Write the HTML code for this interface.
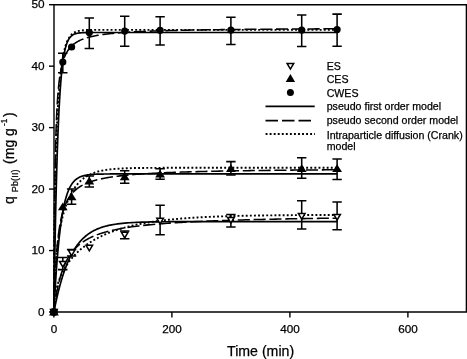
<!DOCTYPE html>
<html><head><meta charset="utf-8"><title>Kinetics</title><style>html,body{margin:0;padding:0;background:#fff}</style></head><body>
<svg width="467" height="359" viewBox="0 0 467 359" style="display:block;font-family:'Liberation Sans',sans-serif" fill="#000">
<style>text{stroke:#000;stroke-width:0.25px}</style>
<rect width="467" height="359" fill="#fff"/>
<g fill="none" stroke="#000" stroke-width="1.7" stroke-linejoin="round">
<path d="M53.90 312.00 L54.05 301.85 L54.20 292.06 L54.34 282.63 L54.49 273.55 L54.64 264.79 L54.78 256.35 L54.93 248.22 L55.08 240.38 L55.23 232.83 L55.38 225.55 L55.52 218.54 L55.67 211.78 L55.82 205.27 L55.96 198.99 L56.11 192.95 L56.26 187.12 L56.41 181.50 L56.55 176.09 L56.70 170.87 L56.85 165.84 L57.00 161.00 L57.14 156.33 L57.29 151.83 L57.44 147.50 L57.59 143.32 L57.73 139.29 L57.88 135.41 L58.03 131.68 L58.18 128.07 L58.32 124.60 L58.47 121.25 L58.62 118.03 L58.77 114.92 L58.91 111.93 L59.06 109.04 L59.21 106.26 L59.36 103.58 L59.50 101.00 L59.65 98.51 L59.80 96.11 L59.95 93.80 L60.09 91.57 L60.24 89.43 L60.39 87.36 L60.54 85.36 L60.68 83.44 L60.83 81.59 L60.98 79.81 L61.13 78.09 L61.27 76.43 L61.42 74.84 L61.57 73.30 L61.72 71.82 L61.86 70.39 L62.01 69.01 L62.16 67.68 L62.31 66.40 L62.45 65.17 L62.60 63.98 L62.75 62.84 L62.90 61.74 L63.05 60.68 L63.19 59.65 L63.34 58.66 L63.49 57.71 L63.63 56.80 L63.78 55.91 L63.93 55.06 L64.08 54.24 L64.22 53.45 L64.37 52.69 L64.52 51.96 L64.67 51.25 L64.81 50.57 L64.96 49.91 L65.11 49.28 L65.26 48.67 L65.41 48.08 L65.55 47.51 L65.70 46.97 L66.29 44.97 L66.88 43.26 L67.47 41.77 L68.06 40.50 L68.65 39.39 L69.24 38.44 L69.83 37.62 L70.42 36.92 L71.01 36.31 L71.60 35.78 L72.19 35.33 L72.78 34.93 L73.37 34.60 L73.96 34.31 L74.55 34.06 L75.14 33.84 L75.73 33.65 L76.32 33.49 L76.91 33.35 L77.50 33.23 L78.09 33.13 L78.68 33.04 L79.27 32.96 L79.86 32.90 L80.45 32.84 L81.04 32.79 L81.63 32.75 L82.22 32.71 L82.81 32.68 L83.40 32.65 L83.99 32.63 L84.58 32.61 L85.17 32.59 L85.76 32.58 L86.35 32.56 L86.94 32.55 L87.53 32.54 L88.12 32.53 L88.71 32.53 L89.30 32.52 L89.89 32.52 L90.48 32.51 L91.07 32.51 L91.66 32.50 L92.25 32.50 L92.84 32.50 L93.43 32.50 L94.02 32.49 L94.61 32.49 L95.20 32.49 L95.79 32.49 L96.38 32.49 L96.97 32.49 L97.56 32.49 L98.15 32.49 L98.74 32.49 L99.33 32.49 L99.92 32.49 L100.51 32.48 L101.10 32.48 L101.69 32.48 L102.28 32.48 L102.87 32.48 L103.46 32.48 L104.05 32.48 L104.64 32.48 L105.23 32.48 L105.82 32.48 L106.41 32.48 L107.00 32.48 L107.59 32.48 L108.18 32.48 L108.77 32.48 L109.36 32.48 L109.95 32.48 L110.54 32.48 L111.13 32.48 L111.72 32.48 L112.31 32.48 L112.90 32.48 L115.26 32.48 L117.62 32.48 L119.98 32.48 L122.34 32.48 L124.70 32.48 L127.06 32.48 L129.42 32.48 L131.78 32.48 L134.14 32.48 L136.50 32.48 L138.86 32.48 L141.22 32.48 L143.58 32.48 L145.94 32.48 L148.30 32.48 L150.66 32.48 L153.02 32.48 L155.38 32.48 L157.74 32.48 L160.10 32.48 L162.46 32.48 L164.82 32.48 L167.18 32.48 L169.54 32.48 L171.90 32.48 L174.26 32.48 L176.62 32.48 L178.98 32.48 L181.34 32.48 L183.70 32.48 L186.06 32.48 L188.42 32.48 L190.78 32.48 L193.14 32.48 L195.50 32.48 L197.86 32.48 L200.22 32.48 L202.58 32.48 L204.94 32.48 L207.30 32.48 L209.66 32.48 L212.02 32.48 L214.38 32.48 L216.74 32.48 L219.10 32.48 L221.46 32.48 L223.82 32.48 L226.18 32.48 L228.54 32.48 L230.90 32.48 L233.26 32.48 L235.62 32.48 L237.98 32.48 L240.34 32.48 L242.70 32.48 L245.06 32.48 L247.42 32.48 L249.78 32.48 L252.14 32.48 L254.50 32.48 L256.86 32.48 L259.22 32.48 L261.58 32.48 L263.94 32.48 L266.30 32.48 L268.66 32.48 L271.02 32.48 L273.38 32.48 L275.74 32.48 L278.10 32.48 L280.46 32.48 L282.82 32.48 L285.18 32.48 L287.54 32.48 L289.90 32.48 L292.26 32.48 L294.62 32.48 L296.98 32.48 L299.34 32.48 L301.70 32.48 L304.06 32.48 L306.42 32.48 L308.78 32.48 L311.14 32.48 L313.50 32.48 L315.86 32.48 L318.22 32.48 L320.58 32.48 L322.94 32.48 L325.30 32.48 L327.66 32.48 L330.02 32.48 L332.38 32.48 L334.74 32.48 L337.10 32.48"/>
<path d="M53.90 312.00 L54.05 281.52 L54.20 256.95 L54.34 236.71 L54.49 219.75 L54.64 205.34 L54.78 192.93 L54.93 182.15 L55.08 172.68 L55.23 164.31 L55.38 156.85 L55.52 150.16 L55.67 144.14 L55.82 138.67 L55.96 133.70 L56.11 129.15 L56.26 124.97 L56.41 121.13 L56.55 117.57 L56.70 114.28 L56.85 111.22 L57.00 108.37 L57.14 105.70 L57.29 103.21 L57.44 100.87 L57.59 98.67 L57.73 96.60 L57.88 94.65 L58.03 92.80 L58.18 91.05 L58.32 89.40 L58.47 87.82 L58.62 86.33 L58.77 84.91 L58.91 83.55 L59.06 82.26 L59.21 81.03 L59.36 79.85 L59.50 78.72 L59.65 77.64 L59.80 76.60 L59.95 75.61 L60.09 74.65 L60.24 73.74 L60.39 72.86 L60.54 72.01 L60.68 71.19 L60.83 70.40 L60.98 69.64 L61.13 68.91 L61.27 68.20 L61.42 67.51 L61.57 66.85 L61.72 66.21 L61.86 65.59 L62.01 64.99 L62.16 64.41 L62.31 63.84 L62.45 63.30 L62.60 62.77 L62.75 62.25 L62.90 61.75 L63.05 61.26 L63.19 60.79 L63.34 60.33 L63.49 59.88 L63.63 59.45 L63.78 59.03 L63.93 58.61 L64.08 58.21 L64.22 57.82 L64.37 57.44 L64.52 57.07 L64.67 56.71 L64.81 56.35 L64.96 56.01 L65.11 55.67 L65.26 55.34 L65.41 55.02 L65.55 54.70 L65.70 54.40 L66.29 53.23 L66.88 52.17 L67.47 51.19 L68.06 50.28 L68.65 49.44 L69.24 48.66 L69.83 47.94 L70.42 47.26 L71.01 46.63 L71.60 46.03 L72.19 45.47 L72.78 44.95 L73.37 44.45 L73.96 43.98 L74.55 43.54 L75.14 43.12 L75.73 42.72 L76.32 42.35 L76.91 41.99 L77.50 41.64 L78.09 41.32 L78.68 41.00 L79.27 40.71 L79.86 40.42 L80.45 40.15 L81.04 39.89 L81.63 39.64 L82.22 39.39 L82.81 39.16 L83.40 38.94 L83.99 38.73 L84.58 38.52 L85.17 38.32 L85.76 38.13 L86.35 37.94 L86.94 37.76 L87.53 37.59 L88.12 37.43 L88.71 37.26 L89.30 37.11 L89.89 36.96 L90.48 36.81 L91.07 36.67 L91.66 36.53 L92.25 36.40 L92.84 36.27 L93.43 36.14 L94.02 36.02 L94.61 35.90 L95.20 35.78 L95.79 35.67 L96.38 35.56 L96.97 35.45 L97.56 35.35 L98.15 35.25 L98.74 35.15 L99.33 35.06 L99.92 34.96 L100.51 34.87 L101.10 34.78 L101.69 34.69 L102.28 34.61 L102.87 34.53 L103.46 34.45 L104.05 34.37 L104.64 34.29 L105.23 34.21 L105.82 34.14 L106.41 34.07 L107.00 34.00 L107.59 33.93 L108.18 33.86 L108.77 33.79 L109.36 33.73 L109.95 33.67 L110.54 33.60 L111.13 33.54 L111.72 33.48 L112.31 33.42 L112.90 33.37 L115.26 33.15 L117.62 32.95 L119.98 32.76 L122.34 32.58 L124.70 32.42 L127.06 32.26 L129.42 32.12 L131.78 31.98 L134.14 31.85 L136.50 31.73 L138.86 31.62 L141.22 31.51 L143.58 31.41 L145.94 31.31 L148.30 31.22 L150.66 31.13 L153.02 31.05 L155.38 30.97 L157.74 30.89 L160.10 30.82 L162.46 30.75 L164.82 30.68 L167.18 30.62 L169.54 30.55 L171.90 30.49 L174.26 30.44 L176.62 30.38 L178.98 30.33 L181.34 30.28 L183.70 30.23 L186.06 30.18 L188.42 30.14 L190.78 30.09 L193.14 30.05 L195.50 30.01 L197.86 29.97 L200.22 29.93 L202.58 29.89 L204.94 29.86 L207.30 29.82 L209.66 29.79 L212.02 29.76 L214.38 29.72 L216.74 29.69 L219.10 29.66 L221.46 29.63 L223.82 29.61 L226.18 29.58 L228.54 29.55 L230.90 29.52 L233.26 29.50 L235.62 29.47 L237.98 29.45 L240.34 29.43 L242.70 29.40 L245.06 29.38 L247.42 29.36 L249.78 29.34 L252.14 29.32 L254.50 29.29 L256.86 29.27 L259.22 29.26 L261.58 29.24 L263.94 29.22 L266.30 29.20 L268.66 29.18 L271.02 29.16 L273.38 29.15 L275.74 29.13 L278.10 29.11 L280.46 29.10 L282.82 29.08 L285.18 29.07 L287.54 29.05 L289.90 29.04 L292.26 29.02 L294.62 29.01 L296.98 28.99 L299.34 28.98 L301.70 28.97 L304.06 28.95 L306.42 28.94 L308.78 28.93 L311.14 28.92 L313.50 28.90 L315.86 28.89 L318.22 28.88 L320.58 28.87 L322.94 28.86 L325.30 28.84 L327.66 28.83 L330.02 28.82 L332.38 28.81 L334.74 28.80 L337.10 28.79" stroke-dasharray="12.1 3.7" stroke-width="1.55" stroke-dashoffset="13.72"/>
<path d="M53.90 312.00 L54.05 261.91 L54.20 242.67 L54.34 228.51 L54.49 216.97 L54.64 207.11 L54.78 198.45 L54.93 190.68 L55.08 183.64 L55.23 177.18 L55.38 171.20 L55.52 165.65 L55.67 160.45 L55.82 155.58 L55.96 150.98 L56.11 146.64 L56.26 142.53 L56.41 138.62 L56.55 134.89 L56.70 131.35 L56.85 127.95 L57.00 124.71 L57.14 121.61 L57.29 118.63 L57.44 115.77 L57.59 113.02 L57.73 110.38 L57.88 107.84 L58.03 105.39 L58.18 103.03 L58.32 100.76 L58.47 98.56 L58.62 96.44 L58.77 94.40 L58.91 92.42 L59.06 90.51 L59.21 88.66 L59.36 86.88 L59.50 85.15 L59.65 83.47 L59.80 81.86 L59.95 80.29 L60.09 78.77 L60.24 77.30 L60.39 75.88 L60.54 74.50 L60.68 73.16 L60.83 71.87 L60.98 70.61 L61.13 69.40 L61.27 68.22 L61.42 67.08 L61.57 65.97 L61.72 64.89 L61.86 63.85 L62.01 62.84 L62.16 61.86 L62.31 60.91 L62.45 59.99 L62.60 59.09 L62.75 58.22 L62.90 57.38 L63.05 56.57 L63.19 55.77 L63.34 55.01 L63.49 54.26 L63.63 53.54 L63.78 52.84 L63.93 52.15 L64.08 51.49 L64.22 50.85 L64.37 50.23 L64.52 49.63 L64.67 49.04 L64.81 48.47 L64.96 47.92 L65.11 47.39 L65.26 46.87 L65.41 46.37 L65.55 45.88 L65.70 45.40 L66.29 43.64 L66.88 42.08 L67.47 40.70 L68.06 39.47 L68.65 38.38 L69.24 37.41 L69.83 36.56 L70.42 35.80 L71.01 35.12 L71.60 34.52 L72.19 33.99 L72.78 33.52 L73.37 33.11 L73.96 32.74 L74.55 32.41 L75.14 32.12 L75.73 31.86 L76.32 31.63 L76.91 31.43 L77.50 31.25 L78.09 31.09 L78.68 30.95 L79.27 30.82 L79.86 30.71 L80.45 30.61 L81.04 30.53 L81.63 30.45 L82.22 30.38 L82.81 30.32 L83.40 30.26 L83.99 30.22 L84.58 30.17 L85.17 30.13 L85.76 30.10 L86.35 30.07 L86.94 30.04 L87.53 30.02 L88.12 30.00 L88.71 29.98 L89.30 29.97 L89.89 29.95 L90.48 29.94 L91.07 29.93 L91.66 29.92 L92.25 29.91 L92.84 29.90 L93.43 29.89 L94.02 29.89 L94.61 29.88 L95.20 29.88 L95.79 29.87 L96.38 29.87 L96.97 29.86 L97.56 29.86 L98.15 29.86 L98.74 29.86 L99.33 29.85 L99.92 29.85 L100.51 29.85 L101.10 29.85 L101.69 29.85 L102.28 29.85 L102.87 29.85 L103.46 29.85 L104.05 29.84 L104.64 29.84 L105.23 29.84 L105.82 29.84 L106.41 29.84 L107.00 29.84 L107.59 29.84 L108.18 29.84 L108.77 29.84 L109.36 29.84 L109.95 29.84 L110.54 29.84 L111.13 29.84 L111.72 29.84 L112.31 29.84 L112.90 29.84 L115.26 29.84 L117.62 29.84 L119.98 29.84 L122.34 29.84 L124.70 29.84 L127.06 29.84 L129.42 29.84 L131.78 29.84 L134.14 29.84 L136.50 29.84 L138.86 29.84 L141.22 29.84 L143.58 29.84 L145.94 29.84 L148.30 29.84 L150.66 29.84 L153.02 29.84 L155.38 29.84 L157.74 29.84 L160.10 29.84 L162.46 29.84 L164.82 29.84 L167.18 29.84 L169.54 29.84 L171.90 29.84 L174.26 29.84 L176.62 29.84 L178.98 29.84 L181.34 29.84 L183.70 29.84 L186.06 29.84 L188.42 29.84 L190.78 29.84 L193.14 29.84 L195.50 29.84 L197.86 29.84 L200.22 29.84 L202.58 29.84 L204.94 29.84 L207.30 29.84 L209.66 29.84 L212.02 29.84 L214.38 29.84 L216.74 29.84 L219.10 29.84 L221.46 29.84 L223.82 29.84 L226.18 29.84 L228.54 29.84 L230.90 29.84 L233.26 29.84 L235.62 29.84 L237.98 29.84 L240.34 29.84 L242.70 29.84 L245.06 29.84 L247.42 29.84 L249.78 29.84 L252.14 29.84 L254.50 29.84 L256.86 29.84 L259.22 29.84 L261.58 29.84 L263.94 29.84 L266.30 29.84 L268.66 29.84 L271.02 29.84 L273.38 29.84 L275.74 29.84 L278.10 29.84 L280.46 29.84 L282.82 29.84 L285.18 29.84 L287.54 29.84 L289.90 29.84 L292.26 29.84 L294.62 29.84 L296.98 29.84 L299.34 29.84 L301.70 29.84 L304.06 29.84 L306.42 29.84 L308.78 29.84 L311.14 29.84 L313.50 29.84 L315.86 29.84 L318.22 29.84 L320.58 29.84 L322.94 29.84 L325.30 29.84 L327.66 29.84 L330.02 29.84 L332.38 29.84 L334.74 29.84 L337.10 29.84" stroke-dasharray="1.9 2.2" stroke-width="1.9"/>
<path d="M53.90 312.00 L54.05 309.06 L54.20 306.19 L54.34 303.38 L54.49 300.62 L54.64 297.93 L54.78 295.29 L54.93 292.71 L55.08 290.18 L55.23 287.71 L55.38 285.29 L55.52 282.92 L55.67 280.60 L55.82 278.33 L55.96 276.11 L56.11 273.94 L56.26 271.81 L56.41 269.73 L56.55 267.69 L56.70 265.70 L56.85 263.75 L57.00 261.84 L57.14 259.97 L57.29 258.14 L57.44 256.35 L57.59 254.59 L57.73 252.88 L57.88 251.20 L58.03 249.55 L58.18 247.95 L58.32 246.37 L58.47 244.83 L58.62 243.32 L58.77 241.85 L58.91 240.40 L59.06 238.99 L59.21 237.60 L59.36 236.25 L59.50 234.92 L59.65 233.63 L59.80 232.36 L59.95 231.11 L60.09 229.90 L60.24 228.71 L60.39 227.54 L60.54 226.40 L60.68 225.29 L60.83 224.19 L60.98 223.13 L61.13 222.08 L61.27 221.05 L61.42 220.05 L61.57 219.07 L61.72 218.11 L61.86 217.17 L62.01 216.25 L62.16 215.35 L62.31 214.47 L62.45 213.61 L62.60 212.76 L62.75 211.94 L62.90 211.13 L63.05 210.34 L63.19 209.56 L63.34 208.81 L63.49 208.06 L63.63 207.34 L63.78 206.63 L63.93 205.93 L64.08 205.25 L64.22 204.59 L64.37 203.93 L64.52 203.30 L64.67 202.67 L64.81 202.06 L64.96 201.46 L65.11 200.88 L65.26 200.30 L65.41 199.74 L65.55 199.19 L65.70 198.66 L66.29 196.62 L66.88 194.75 L67.47 193.03 L68.06 191.46 L68.65 190.02 L69.24 188.69 L69.83 187.47 L70.42 186.36 L71.01 185.33 L71.60 184.39 L72.19 183.53 L72.78 182.74 L73.37 182.02 L73.96 181.35 L74.55 180.74 L75.14 180.18 L75.73 179.66 L76.32 179.19 L76.91 178.76 L77.50 178.36 L78.09 177.99 L78.68 177.66 L79.27 177.35 L79.86 177.07 L80.45 176.81 L81.04 176.58 L81.63 176.36 L82.22 176.16 L82.81 175.97 L83.40 175.81 L83.99 175.65 L84.58 175.51 L85.17 175.38 L85.76 175.26 L86.35 175.15 L86.94 175.05 L87.53 174.96 L88.12 174.87 L88.71 174.80 L89.30 174.73 L89.89 174.66 L90.48 174.60 L91.07 174.54 L91.66 174.49 L92.25 174.45 L92.84 174.41 L93.43 174.37 L94.02 174.33 L94.61 174.30 L95.20 174.27 L95.79 174.24 L96.38 174.21 L96.97 174.19 L97.56 174.17 L98.15 174.15 L98.74 174.13 L99.33 174.12 L99.92 174.10 L100.51 174.09 L101.10 174.07 L101.69 174.06 L102.28 174.05 L102.87 174.04 L103.46 174.03 L104.05 174.02 L104.64 174.02 L105.23 174.01 L105.82 174.00 L106.41 174.00 L107.00 173.99 L107.59 173.99 L108.18 173.98 L108.77 173.98 L109.36 173.98 L109.95 173.97 L110.54 173.97 L111.13 173.97 L111.72 173.96 L112.31 173.96 L112.90 173.96 L115.26 173.95 L117.62 173.95 L119.98 173.94 L122.34 173.94 L124.70 173.94 L127.06 173.94 L129.42 173.93 L131.78 173.93 L134.14 173.93 L136.50 173.93 L138.86 173.93 L141.22 173.93 L143.58 173.93 L145.94 173.93 L148.30 173.93 L150.66 173.93 L153.02 173.93 L155.38 173.93 L157.74 173.93 L160.10 173.93 L162.46 173.93 L164.82 173.93 L167.18 173.93 L169.54 173.93 L171.90 173.93 L174.26 173.93 L176.62 173.93 L178.98 173.93 L181.34 173.93 L183.70 173.93 L186.06 173.93 L188.42 173.93 L190.78 173.93 L193.14 173.93 L195.50 173.93 L197.86 173.93 L200.22 173.93 L202.58 173.93 L204.94 173.93 L207.30 173.93 L209.66 173.93 L212.02 173.93 L214.38 173.93 L216.74 173.93 L219.10 173.93 L221.46 173.93 L223.82 173.93 L226.18 173.93 L228.54 173.93 L230.90 173.93 L233.26 173.93 L235.62 173.93 L237.98 173.93 L240.34 173.93 L242.70 173.93 L245.06 173.93 L247.42 173.93 L249.78 173.93 L252.14 173.93 L254.50 173.93 L256.86 173.93 L259.22 173.93 L261.58 173.93 L263.94 173.93 L266.30 173.93 L268.66 173.93 L271.02 173.93 L273.38 173.93 L275.74 173.93 L278.10 173.93 L280.46 173.93 L282.82 173.93 L285.18 173.93 L287.54 173.93 L289.90 173.93 L292.26 173.93 L294.62 173.93 L296.98 173.93 L299.34 173.93 L301.70 173.93 L304.06 173.93 L306.42 173.93 L308.78 173.93 L311.14 173.93 L313.50 173.93 L315.86 173.93 L318.22 173.93 L320.58 173.93 L322.94 173.93 L325.30 173.93 L327.66 173.93 L330.02 173.93 L332.38 173.93 L334.74 173.93 L337.10 173.93"/>
<path d="M53.90 312.00 L54.05 306.79 L54.20 301.94 L54.34 297.42 L54.49 293.19 L54.64 289.23 L54.78 285.51 L54.93 282.01 L55.08 278.72 L55.23 275.61 L55.38 272.67 L55.52 269.88 L55.67 267.24 L55.82 264.74 L55.96 262.35 L56.11 260.08 L56.26 257.92 L56.41 255.85 L56.55 253.88 L56.70 252.00 L56.85 250.19 L57.00 248.46 L57.14 246.81 L57.29 245.21 L57.44 243.69 L57.59 242.22 L57.73 240.80 L57.88 239.44 L58.03 238.13 L58.18 236.87 L58.32 235.65 L58.47 234.47 L58.62 233.34 L58.77 232.24 L58.91 231.17 L59.06 230.15 L59.21 229.15 L59.36 228.19 L59.50 227.25 L59.65 226.35 L59.80 225.47 L59.95 224.62 L60.09 223.79 L60.24 222.99 L60.39 222.20 L60.54 221.44 L60.68 220.71 L60.83 219.99 L60.98 219.29 L61.13 218.61 L61.27 217.95 L61.42 217.30 L61.57 216.67 L61.72 216.06 L61.86 215.46 L62.01 214.87 L62.16 214.30 L62.31 213.75 L62.45 213.21 L62.60 212.68 L62.75 212.16 L62.90 211.65 L63.05 211.16 L63.19 210.67 L63.34 210.20 L63.49 209.74 L63.63 209.28 L63.78 208.84 L63.93 208.41 L64.08 207.98 L64.22 207.57 L64.37 207.16 L64.52 206.76 L64.67 206.37 L64.81 205.99 L64.96 205.61 L65.11 205.24 L65.26 204.88 L65.41 204.53 L65.55 204.18 L65.70 203.84 L66.29 202.53 L66.88 201.32 L67.47 200.19 L68.06 199.13 L68.65 198.14 L69.24 197.21 L69.83 196.34 L70.42 195.52 L71.01 194.74 L71.60 194.00 L72.19 193.31 L72.78 192.65 L73.37 192.02 L73.96 191.42 L74.55 190.86 L75.14 190.32 L75.73 189.80 L76.32 189.31 L76.91 188.84 L77.50 188.38 L78.09 187.95 L78.68 187.54 L79.27 187.14 L79.86 186.76 L80.45 186.39 L81.04 186.04 L81.63 185.70 L82.22 185.37 L82.81 185.05 L83.40 184.75 L83.99 184.46 L84.58 184.17 L85.17 183.90 L85.76 183.63 L86.35 183.37 L86.94 183.12 L87.53 182.88 L88.12 182.65 L88.71 182.42 L89.30 182.20 L89.89 181.99 L90.48 181.78 L91.07 181.58 L91.66 181.39 L92.25 181.20 L92.84 181.01 L93.43 180.83 L94.02 180.66 L94.61 180.49 L95.20 180.32 L95.79 180.16 L96.38 180.00 L96.97 179.85 L97.56 179.70 L98.15 179.56 L98.74 179.41 L99.33 179.27 L99.92 179.14 L100.51 179.01 L101.10 178.88 L101.69 178.75 L102.28 178.63 L102.87 178.50 L103.46 178.39 L104.05 178.27 L104.64 178.16 L105.23 178.05 L105.82 177.94 L106.41 177.83 L107.00 177.73 L107.59 177.63 L108.18 177.53 L108.77 177.43 L109.36 177.33 L109.95 177.24 L110.54 177.15 L111.13 177.06 L111.72 176.97 L112.31 176.88 L112.90 176.80 L115.26 176.47 L117.62 176.17 L119.98 175.88 L122.34 175.62 L124.70 175.37 L127.06 175.14 L129.42 174.92 L131.78 174.72 L134.14 174.52 L136.50 174.34 L138.86 174.16 L141.22 174.00 L143.58 173.84 L145.94 173.69 L148.30 173.55 L150.66 173.42 L153.02 173.29 L155.38 173.16 L157.74 173.05 L160.10 172.93 L162.46 172.83 L164.82 172.72 L167.18 172.62 L169.54 172.53 L171.90 172.43 L174.26 172.35 L176.62 172.26 L178.98 172.18 L181.34 172.10 L183.70 172.02 L186.06 171.95 L188.42 171.88 L190.78 171.81 L193.14 171.74 L195.50 171.68 L197.86 171.62 L200.22 171.56 L202.58 171.50 L204.94 171.44 L207.30 171.39 L209.66 171.33 L212.02 171.28 L214.38 171.23 L216.74 171.18 L219.10 171.14 L221.46 171.09 L223.82 171.05 L226.18 171.00 L228.54 170.96 L230.90 170.92 L233.26 170.88 L235.62 170.84 L237.98 170.80 L240.34 170.76 L242.70 170.73 L245.06 170.69 L247.42 170.66 L249.78 170.62 L252.14 170.59 L254.50 170.56 L256.86 170.52 L259.22 170.49 L261.58 170.46 L263.94 170.43 L266.30 170.40 L268.66 170.38 L271.02 170.35 L273.38 170.32 L275.74 170.30 L278.10 170.27 L280.46 170.24 L282.82 170.22 L285.18 170.19 L287.54 170.17 L289.90 170.15 L292.26 170.12 L294.62 170.10 L296.98 170.08 L299.34 170.06 L301.70 170.04 L304.06 170.01 L306.42 169.99 L308.78 169.97 L311.14 169.95 L313.50 169.93 L315.86 169.92 L318.22 169.90 L320.58 169.88 L322.94 169.86 L325.30 169.84 L327.66 169.83 L330.02 169.81 L332.38 169.79 L334.74 169.77 L337.10 169.76" stroke-dasharray="12.1 3.7" stroke-width="1.55" stroke-dashoffset="3.56"/>
<path d="M53.90 312.00 L54.05 296.54 L54.20 290.40 L54.34 285.80 L54.49 281.99 L54.64 278.70 L54.78 275.76 L54.93 273.09 L55.08 270.64 L55.23 268.37 L55.38 266.25 L55.52 264.25 L55.67 262.36 L55.82 260.57 L55.96 258.86 L56.11 257.23 L56.26 255.67 L56.41 254.17 L56.55 252.73 L56.70 251.34 L56.85 249.99 L57.00 248.70 L57.14 247.44 L57.29 246.22 L57.44 245.04 L57.59 243.89 L57.73 242.77 L57.88 241.69 L58.03 240.63 L58.18 239.60 L58.32 238.59 L58.47 237.61 L58.62 236.65 L58.77 235.72 L58.91 234.80 L59.06 233.91 L59.21 233.03 L59.36 232.17 L59.50 231.33 L59.65 230.51 L59.80 229.70 L59.95 228.91 L60.09 228.14 L60.24 227.37 L60.39 226.63 L60.54 225.89 L60.68 225.17 L60.83 224.47 L60.98 223.77 L61.13 223.09 L61.27 222.42 L61.42 221.76 L61.57 221.11 L61.72 220.47 L61.86 219.84 L62.01 219.22 L62.16 218.62 L62.31 218.02 L62.45 217.43 L62.60 216.85 L62.75 216.27 L62.90 215.71 L63.05 215.16 L63.19 214.61 L63.34 214.07 L63.49 213.54 L63.63 213.02 L63.78 212.50 L63.93 211.99 L64.08 211.49 L64.22 210.99 L64.37 210.51 L64.52 210.03 L64.67 209.55 L64.81 209.08 L64.96 208.62 L65.11 208.16 L65.26 207.71 L65.41 207.27 L65.55 206.83 L65.70 206.40 L66.29 204.72 L66.88 203.13 L67.47 201.61 L68.06 200.17 L68.65 198.79 L69.24 197.48 L69.83 196.23 L70.42 195.03 L71.01 193.89 L71.60 192.79 L72.19 191.75 L72.78 190.75 L73.37 189.79 L73.96 188.88 L74.55 188.00 L75.14 187.16 L75.73 186.36 L76.32 185.59 L76.91 184.85 L77.50 184.15 L78.09 183.47 L78.68 182.82 L79.27 182.20 L79.86 181.61 L80.45 181.04 L81.04 180.49 L81.63 179.97 L82.22 179.47 L82.81 178.99 L83.40 178.52 L83.99 178.08 L84.58 177.66 L85.17 177.25 L85.76 176.86 L86.35 176.49 L86.94 176.13 L87.53 175.79 L88.12 175.46 L88.71 175.14 L89.30 174.84 L89.89 174.55 L90.48 174.27 L91.07 174.00 L91.66 173.75 L92.25 173.50 L92.84 173.27 L93.43 173.04 L94.02 172.82 L94.61 172.62 L95.20 172.42 L95.79 172.23 L96.38 172.04 L96.97 171.87 L97.56 171.70 L98.15 171.54 L98.74 171.39 L99.33 171.24 L99.92 171.09 L100.51 170.96 L101.10 170.83 L101.69 170.70 L102.28 170.58 L102.87 170.47 L103.46 170.36 L104.05 170.25 L104.64 170.15 L105.23 170.05 L105.82 169.96 L106.41 169.87 L107.00 169.78 L107.59 169.70 L108.18 169.62 L108.77 169.55 L109.36 169.47 L109.95 169.40 L110.54 169.34 L111.13 169.27 L111.72 169.21 L112.31 169.15 L112.90 169.10 L115.26 168.89 L117.62 168.72 L119.98 168.58 L122.34 168.45 L124.70 168.35 L127.06 168.26 L129.42 168.19 L131.78 168.13 L134.14 168.07 L136.50 168.03 L138.86 167.99 L141.22 167.96 L143.58 167.93 L145.94 167.91 L148.30 167.89 L150.66 167.87 L153.02 167.86 L155.38 167.85 L157.74 167.84 L160.10 167.83 L162.46 167.82 L164.82 167.82 L167.18 167.81 L169.54 167.81 L171.90 167.80 L174.26 167.80 L176.62 167.80 L178.98 167.79 L181.34 167.79 L183.70 167.79 L186.06 167.79 L188.42 167.79 L190.78 167.79 L193.14 167.79 L195.50 167.79 L197.86 167.79 L200.22 167.79 L202.58 167.78 L204.94 167.78 L207.30 167.78 L209.66 167.78 L212.02 167.78 L214.38 167.78 L216.74 167.78 L219.10 167.78 L221.46 167.78 L223.82 167.78 L226.18 167.78 L228.54 167.78 L230.90 167.78 L233.26 167.78 L235.62 167.78 L237.98 167.78 L240.34 167.78 L242.70 167.78 L245.06 167.78 L247.42 167.78 L249.78 167.78 L252.14 167.78 L254.50 167.78 L256.86 167.78 L259.22 167.78 L261.58 167.78 L263.94 167.78 L266.30 167.78 L268.66 167.78 L271.02 167.78 L273.38 167.78 L275.74 167.78 L278.10 167.78 L280.46 167.78 L282.82 167.78 L285.18 167.78 L287.54 167.78 L289.90 167.78 L292.26 167.78 L294.62 167.78 L296.98 167.78 L299.34 167.78 L301.70 167.78 L304.06 167.78 L306.42 167.78 L308.78 167.78 L311.14 167.78 L313.50 167.78 L315.86 167.78 L318.22 167.78 L320.58 167.78 L322.94 167.78 L325.30 167.78 L327.66 167.78 L330.02 167.78 L332.38 167.78 L334.74 167.78 L337.10 167.78" stroke-dasharray="1.9 2.2" stroke-width="1.9"/>
<path d="M53.90 312.00 L54.05 311.23 L54.20 310.48 L54.34 309.72 L54.49 308.98 L54.64 308.24 L54.78 307.50 L54.93 306.78 L55.08 306.06 L55.23 305.34 L55.38 304.63 L55.52 303.93 L55.67 303.23 L55.82 302.54 L55.96 301.86 L56.11 301.18 L56.26 300.50 L56.41 299.84 L56.55 299.17 L56.70 298.52 L56.85 297.87 L57.00 297.22 L57.14 296.58 L57.29 295.95 L57.44 295.32 L57.59 294.69 L57.73 294.07 L57.88 293.46 L58.03 292.85 L58.18 292.25 L58.32 291.65 L58.47 291.06 L58.62 290.47 L58.77 289.89 L58.91 289.31 L59.06 288.74 L59.21 288.17 L59.36 287.60 L59.50 287.05 L59.65 286.49 L59.80 285.94 L59.95 285.40 L60.09 284.86 L60.24 284.32 L60.39 283.79 L60.54 283.27 L60.68 282.74 L60.83 282.23 L60.98 281.71 L61.13 281.20 L61.27 280.70 L61.42 280.20 L61.57 279.70 L61.72 279.21 L61.86 278.72 L62.01 278.24 L62.16 277.76 L62.31 277.28 L62.45 276.81 L62.60 276.35 L62.75 275.88 L62.90 275.42 L63.05 274.97 L63.19 274.52 L63.34 274.07 L63.49 273.62 L63.63 273.18 L63.78 272.75 L63.93 272.31 L64.08 271.88 L64.22 271.46 L64.37 271.04 L64.52 270.62 L64.67 270.20 L64.81 269.79 L64.96 269.38 L65.11 268.98 L65.26 268.58 L65.41 268.18 L65.55 267.79 L65.70 267.40 L66.29 265.86 L66.88 264.38 L67.47 262.95 L68.06 261.57 L68.65 260.24 L69.24 258.94 L69.83 257.70 L70.42 256.49 L71.01 255.32 L71.60 254.19 L72.19 253.10 L72.78 252.05 L73.37 251.03 L73.96 250.05 L74.55 249.10 L75.14 248.18 L75.73 247.29 L76.32 246.43 L76.91 245.60 L77.50 244.80 L78.09 244.02 L78.68 243.27 L79.27 242.55 L79.86 241.85 L80.45 241.17 L81.04 240.52 L81.63 239.88 L82.22 239.27 L82.81 238.68 L83.40 238.11 L83.99 237.56 L84.58 237.02 L85.17 236.51 L85.76 236.01 L86.35 235.53 L86.94 235.06 L87.53 234.61 L88.12 234.18 L88.71 233.76 L89.30 233.35 L89.89 232.96 L90.48 232.58 L91.07 232.21 L91.66 231.86 L92.25 231.51 L92.84 231.18 L93.43 230.86 L94.02 230.55 L94.61 230.25 L95.20 229.96 L95.79 229.68 L96.38 229.41 L96.97 229.15 L97.56 228.90 L98.15 228.65 L98.74 228.42 L99.33 228.19 L99.92 227.97 L100.51 227.76 L101.10 227.55 L101.69 227.35 L102.28 227.16 L102.87 226.97 L103.46 226.79 L104.05 226.62 L104.64 226.45 L105.23 226.29 L105.82 226.13 L106.41 225.98 L107.00 225.83 L107.59 225.69 L108.18 225.56 L108.77 225.42 L109.36 225.29 L109.95 225.17 L110.54 225.05 L111.13 224.94 L111.72 224.82 L112.31 224.72 L112.90 224.61 L115.26 224.23 L117.62 223.89 L119.98 223.60 L122.34 223.35 L124.70 223.12 L127.06 222.93 L129.42 222.76 L131.78 222.61 L134.14 222.48 L136.50 222.37 L138.86 222.27 L141.22 222.18 L143.58 222.11 L145.94 222.04 L148.30 221.99 L150.66 221.94 L153.02 221.89 L155.38 221.86 L157.74 221.82 L160.10 221.79 L162.46 221.77 L164.82 221.75 L167.18 221.73 L169.54 221.71 L171.90 221.70 L174.26 221.68 L176.62 221.67 L178.98 221.66 L181.34 221.65 L183.70 221.65 L186.06 221.64 L188.42 221.63 L190.78 221.63 L193.14 221.62 L195.50 221.62 L197.86 221.62 L200.22 221.61 L202.58 221.61 L204.94 221.61 L207.30 221.61 L209.66 221.61 L212.02 221.60 L214.38 221.60 L216.74 221.60 L219.10 221.60 L221.46 221.60 L223.82 221.60 L226.18 221.60 L228.54 221.60 L230.90 221.60 L233.26 221.60 L235.62 221.60 L237.98 221.60 L240.34 221.60 L242.70 221.60 L245.06 221.60 L247.42 221.60 L249.78 221.60 L252.14 221.60 L254.50 221.60 L256.86 221.60 L259.22 221.60 L261.58 221.60 L263.94 221.60 L266.30 221.60 L268.66 221.60 L271.02 221.60 L273.38 221.60 L275.74 221.60 L278.10 221.60 L280.46 221.60 L282.82 221.60 L285.18 221.60 L287.54 221.60 L289.90 221.60 L292.26 221.60 L294.62 221.60 L296.98 221.60 L299.34 221.60 L301.70 221.60 L304.06 221.60 L306.42 221.60 L308.78 221.60 L311.14 221.60 L313.50 221.60 L315.86 221.60 L318.22 221.60 L320.58 221.60 L322.94 221.60 L325.30 221.60 L327.66 221.60 L330.02 221.60 L332.38 221.60 L334.74 221.60 L337.10 221.60"/>
<path d="M53.90 312.00 L54.05 310.76 L54.20 309.54 L54.34 308.36 L54.49 307.21 L54.64 306.08 L54.78 304.98 L54.93 303.91 L55.08 302.86 L55.23 301.84 L55.38 300.84 L55.52 299.86 L55.67 298.91 L55.82 297.97 L55.96 297.06 L56.11 296.17 L56.26 295.29 L56.41 294.43 L56.55 293.60 L56.70 292.78 L56.85 291.97 L57.00 291.18 L57.14 290.41 L57.29 289.65 L57.44 288.91 L57.59 288.18 L57.73 287.47 L57.88 286.77 L58.03 286.08 L58.18 285.41 L58.32 284.75 L58.47 284.10 L58.62 283.46 L58.77 282.84 L58.91 282.22 L59.06 281.62 L59.21 281.03 L59.36 280.45 L59.50 279.87 L59.65 279.31 L59.80 278.76 L59.95 278.22 L60.09 277.68 L60.24 277.16 L60.39 276.64 L60.54 276.13 L60.68 275.63 L60.83 275.14 L60.98 274.65 L61.13 274.18 L61.27 273.71 L61.42 273.25 L61.57 272.79 L61.72 272.34 L61.86 271.90 L62.01 271.47 L62.16 271.04 L62.31 270.62 L62.45 270.20 L62.60 269.79 L62.75 269.39 L62.90 268.99 L63.05 268.60 L63.19 268.21 L63.34 267.83 L63.49 267.46 L63.63 267.09 L63.78 266.72 L63.93 266.36 L64.08 266.01 L64.22 265.66 L64.37 265.31 L64.52 264.97 L64.67 264.64 L64.81 264.30 L64.96 263.98 L65.11 263.65 L65.26 263.33 L65.41 263.02 L65.55 262.71 L65.70 262.40 L66.29 261.21 L66.88 260.08 L67.47 259.00 L68.06 257.97 L68.65 256.99 L69.24 256.05 L69.83 255.15 L70.42 254.28 L71.01 253.46 L71.60 252.67 L72.19 251.91 L72.78 251.17 L73.37 250.47 L73.96 249.79 L74.55 249.14 L75.14 248.51 L75.73 247.91 L76.32 247.32 L76.91 246.76 L77.50 246.21 L78.09 245.68 L78.68 245.17 L79.27 244.68 L79.86 244.20 L80.45 243.74 L81.04 243.29 L81.63 242.85 L82.22 242.43 L82.81 242.02 L83.40 241.62 L83.99 241.23 L84.58 240.85 L85.17 240.49 L85.76 240.13 L86.35 239.78 L86.94 239.45 L87.53 239.12 L88.12 238.80 L88.71 238.49 L89.30 238.18 L89.89 237.88 L90.48 237.60 L91.07 237.31 L91.66 237.04 L92.25 236.77 L92.84 236.51 L93.43 236.25 L94.02 236.00 L94.61 235.75 L95.20 235.51 L95.79 235.28 L96.38 235.05 L96.97 234.83 L97.56 234.61 L98.15 234.39 L98.74 234.18 L99.33 233.98 L99.92 233.77 L100.51 233.58 L101.10 233.38 L101.69 233.19 L102.28 233.01 L102.87 232.82 L103.46 232.65 L104.05 232.47 L104.64 232.30 L105.23 232.13 L105.82 231.96 L106.41 231.80 L107.00 231.64 L107.59 231.48 L108.18 231.33 L108.77 231.18 L109.36 231.03 L109.95 230.89 L110.54 230.74 L111.13 230.60 L111.72 230.46 L112.31 230.33 L112.90 230.19 L115.26 229.68 L117.62 229.20 L119.98 228.74 L122.34 228.32 L124.70 227.92 L127.06 227.54 L129.42 227.18 L131.78 226.84 L134.14 226.52 L136.50 226.21 L138.86 225.92 L141.22 225.65 L143.58 225.38 L145.94 225.13 L148.30 224.89 L150.66 224.66 L153.02 224.44 L155.38 224.23 L157.74 224.03 L160.10 223.83 L162.46 223.64 L164.82 223.46 L167.18 223.29 L169.54 223.13 L171.90 222.97 L174.26 222.81 L176.62 222.66 L178.98 222.52 L181.34 222.38 L183.70 222.24 L186.06 222.11 L188.42 221.99 L190.78 221.87 L193.14 221.75 L195.50 221.63 L197.86 221.52 L200.22 221.42 L202.58 221.31 L204.94 221.21 L207.30 221.11 L209.66 221.02 L212.02 220.92 L214.38 220.83 L216.74 220.75 L219.10 220.66 L221.46 220.58 L223.82 220.50 L226.18 220.42 L228.54 220.34 L230.90 220.26 L233.26 220.19 L235.62 220.12 L237.98 220.05 L240.34 219.98 L242.70 219.91 L245.06 219.85 L247.42 219.79 L249.78 219.72 L252.14 219.66 L254.50 219.60 L256.86 219.55 L259.22 219.49 L261.58 219.43 L263.94 219.38 L266.30 219.33 L268.66 219.27 L271.02 219.22 L273.38 219.17 L275.74 219.12 L278.10 219.08 L280.46 219.03 L282.82 218.98 L285.18 218.94 L287.54 218.89 L289.90 218.85 L292.26 218.81 L294.62 218.77 L296.98 218.73 L299.34 218.69 L301.70 218.65 L304.06 218.61 L306.42 218.57 L308.78 218.53 L311.14 218.49 L313.50 218.46 L315.86 218.42 L318.22 218.39 L320.58 218.35 L322.94 218.32 L325.30 218.29 L327.66 218.25 L330.02 218.22 L332.38 218.19 L334.74 218.16 L337.10 218.13" stroke-dasharray="12.1 3.7" stroke-width="1.55" stroke-dashoffset="0.87"/>
<path d="M53.90 312.00 L54.05 306.17 L54.20 303.81 L54.34 302.02 L54.49 300.53 L54.64 299.23 L54.78 298.06 L54.93 296.99 L55.08 296.00 L55.23 295.08 L55.38 294.22 L55.52 293.40 L55.67 292.62 L55.82 291.87 L55.96 291.16 L56.11 290.48 L56.26 289.82 L56.41 289.19 L56.55 288.57 L56.70 287.98 L56.85 287.40 L57.00 286.84 L57.14 286.30 L57.29 285.77 L57.44 285.25 L57.59 284.75 L57.73 284.26 L57.88 283.78 L58.03 283.31 L58.18 282.85 L58.32 282.39 L58.47 281.95 L58.62 281.52 L58.77 281.09 L58.91 280.68 L59.06 280.27 L59.21 279.87 L59.36 279.47 L59.50 279.08 L59.65 278.70 L59.80 278.32 L59.95 277.95 L60.09 277.58 L60.24 277.23 L60.39 276.87 L60.54 276.52 L60.68 276.18 L60.83 275.84 L60.98 275.50 L61.13 275.17 L61.27 274.84 L61.42 274.52 L61.57 274.20 L61.72 273.89 L61.86 273.58 L62.01 273.27 L62.16 272.97 L62.31 272.67 L62.45 272.37 L62.60 272.08 L62.75 271.79 L62.90 271.51 L63.05 271.22 L63.19 270.94 L63.34 270.67 L63.49 270.39 L63.63 270.12 L63.78 269.85 L63.93 269.59 L64.08 269.32 L64.22 269.06 L64.37 268.80 L64.52 268.55 L64.67 268.29 L64.81 268.04 L64.96 267.79 L65.11 267.55 L65.26 267.30 L65.41 267.06 L65.55 266.82 L65.70 266.59 L66.29 265.66 L66.88 264.76 L67.47 263.89 L68.06 263.04 L68.65 262.22 L69.24 261.43 L69.83 260.66 L70.42 259.90 L71.01 259.17 L71.60 258.46 L72.19 257.77 L72.78 257.09 L73.37 256.43 L73.96 255.78 L74.55 255.15 L75.14 254.54 L75.73 253.93 L76.32 253.34 L76.91 252.77 L77.50 252.20 L78.09 251.65 L78.68 251.11 L79.27 250.58 L79.86 250.06 L80.45 249.55 L81.04 249.05 L81.63 248.56 L82.22 248.08 L82.81 247.60 L83.40 247.14 L83.99 246.69 L84.58 246.24 L85.17 245.80 L85.76 245.37 L86.35 244.94 L86.94 244.53 L87.53 244.12 L88.12 243.71 L88.71 243.32 L89.30 242.93 L89.89 242.54 L90.48 242.17 L91.07 241.79 L91.66 241.43 L92.25 241.07 L92.84 240.72 L93.43 240.37 L94.02 240.03 L94.61 239.69 L95.20 239.36 L95.79 239.03 L96.38 238.71 L96.97 238.39 L97.56 238.08 L98.15 237.77 L98.74 237.46 L99.33 237.16 L99.92 236.87 L100.51 236.58 L101.10 236.29 L101.69 236.01 L102.28 235.73 L102.87 235.46 L103.46 235.19 L104.05 234.92 L104.64 234.66 L105.23 234.40 L105.82 234.14 L106.41 233.89 L107.00 233.64 L107.59 233.40 L108.18 233.16 L108.77 232.92 L109.36 232.69 L109.95 232.45 L110.54 232.23 L111.13 232.00 L111.72 231.78 L112.31 231.56 L112.90 231.34 L115.26 230.51 L117.62 229.71 L119.98 228.96 L122.34 228.25 L124.70 227.58 L127.06 226.94 L129.42 226.33 L131.78 225.75 L134.14 225.20 L136.50 224.68 L138.86 224.19 L141.22 223.72 L143.58 223.28 L145.94 222.86 L148.30 222.45 L150.66 222.07 L153.02 221.71 L155.38 221.37 L157.74 221.04 L160.10 220.73 L162.46 220.44 L164.82 220.16 L167.18 219.89 L169.54 219.64 L171.90 219.40 L174.26 219.17 L176.62 218.95 L178.98 218.75 L181.34 218.55 L183.70 218.37 L186.06 218.19 L188.42 218.02 L190.78 217.86 L193.14 217.71 L195.50 217.57 L197.86 217.43 L200.22 217.30 L202.58 217.18 L204.94 217.06 L207.30 216.95 L209.66 216.84 L212.02 216.74 L214.38 216.65 L216.74 216.56 L219.10 216.47 L221.46 216.39 L223.82 216.31 L226.18 216.24 L228.54 216.17 L230.90 216.10 L233.26 216.04 L235.62 215.98 L237.98 215.92 L240.34 215.86 L242.70 215.81 L245.06 215.76 L247.42 215.72 L249.78 215.67 L252.14 215.63 L254.50 215.59 L256.86 215.55 L259.22 215.52 L261.58 215.48 L263.94 215.45 L266.30 215.42 L268.66 215.39 L271.02 215.36 L273.38 215.34 L275.74 215.31 L278.10 215.29 L280.46 215.26 L282.82 215.24 L285.18 215.22 L287.54 215.20 L289.90 215.18 L292.26 215.17 L294.62 215.15 L296.98 215.13 L299.34 215.12 L301.70 215.10 L304.06 215.09 L306.42 215.08 L308.78 215.06 L311.14 215.05 L313.50 215.04 L315.86 215.03 L318.22 215.02 L320.58 215.01 L322.94 215.00 L325.30 214.99 L327.66 214.99 L330.02 214.98 L332.38 214.97 L334.74 214.96 L337.10 214.96" stroke-dasharray="1.9 2.2" stroke-width="1.9"/>
</g>
<g fill="none" stroke="#000" stroke-width="1.4">
<path d="M54 4.7H466.4V312H54Z"/>
<path d="M49 312.00H54"/>
<path d="M49 250.54H54"/>
<path d="M49 189.08H54"/>
<path d="M49 127.62H54"/>
<path d="M49 66.16H54"/>
<path d="M49 4.70H54"/>
<path d="M53.90 312V317.4"/>
<path d="M171.90 312V317.4"/>
<path d="M289.90 312V317.4"/>
<path d="M407.90 312V317.4"/>
</g>
<g fill="none" stroke="#000" stroke-width="1.55">
<path d="M62.8 257.5V269.6M58.0 257.5H67.5M58.0 269.6H67.5"/>
<path d="M71.6 249.5V256.0M66.9 249.5H76.3M66.9 256.0H76.3"/>
<path d="M124.7 231.0V238.7M120.0 231.0H129.4M120.0 238.7H129.4"/>
<path d="M160.1 205.3V234.8M155.4 205.3H164.8M155.4 234.8H164.8"/>
<path d="M230.9 214.5V227.0M226.2 214.5H235.6M226.2 227.0H235.6"/>
<path d="M301.7 200.7V228.9M297.0 200.7H306.4M297.0 228.9H306.4"/>
<path d="M337.1 201.9V229.7M332.4 201.9H341.8M332.4 229.7H341.8"/>
<path d="M71.6 188.9V204.3M66.9 188.9H76.3M66.9 204.3H76.3"/>
<path d="M89.3 176.0V187.0M84.6 176.0H94.0M84.6 187.0H94.0"/>
<path d="M124.7 170.8V183.2M120.0 170.8H129.4M120.0 183.2H129.4"/>
<path d="M160.1 168.8V179.3M155.4 168.8H164.8M155.4 179.3H164.8"/>
<path d="M230.9 161.6V175.0M226.2 161.6H235.6M226.2 175.0H235.6"/>
<path d="M301.7 157.8V178.3M297.0 157.8H306.4M297.0 178.3H306.4"/>
<path d="M337.1 159.0V179.5M332.4 159.0H341.8M332.4 179.5H341.8"/>
<path d="M62.8 53.2V72.8M58.0 53.2H67.5M58.0 72.8H67.5"/>
<path d="M89.3 18.0V48.5M84.6 18.0H94.0M84.6 48.5H94.0"/>
<path d="M124.7 16.2V46.3M120.0 16.2H129.4M120.0 46.3H129.4"/>
<path d="M160.1 16.7V45.0M155.4 16.7H164.8M155.4 45.0H164.8"/>
<path d="M230.9 17.2V44.5M226.2 17.2H235.6M226.2 44.5H235.6"/>
<path d="M301.7 14.9V46.5M297.0 14.9H306.4M297.0 46.5H306.4"/>
<path d="M337.1 14.1V46.3M332.4 14.1H341.8M332.4 46.3H341.8"/>
</g>
<path d="M50.6 309.5L57.2 309.5L53.9 315.1Z" fill="#fff" stroke="#000" stroke-width="1.5"/>
<path d="M59.5 261.4L66.0 261.4L62.8 267.0Z" fill="#fff" stroke="#000" stroke-width="1.5"/>
<path d="M68.3 250.1L74.9 250.1L71.6 255.7Z" fill="#fff" stroke="#000" stroke-width="1.5"/>
<path d="M86.0 245.2L92.6 245.2L89.3 250.8Z" fill="#fff" stroke="#000" stroke-width="1.5"/>
<path d="M121.4 232.3L128.0 232.3L124.7 237.9Z" fill="#fff" stroke="#000" stroke-width="1.5"/>
<path d="M156.8 218.2L163.4 218.2L160.1 223.8Z" fill="#fff" stroke="#000" stroke-width="1.5"/>
<path d="M227.6 217.5L234.2 217.5L230.9 223.1Z" fill="#fff" stroke="#000" stroke-width="1.5"/>
<path d="M298.4 213.6L305.0 213.6L301.7 219.2Z" fill="#fff" stroke="#000" stroke-width="1.5"/>
<path d="M333.8 214.4L340.4 214.4L337.1 220.0Z" fill="#fff" stroke="#000" stroke-width="1.5"/>
<path d="M49.0 315.4L58.8 315.4L53.9 307.6Z"/>
<path d="M57.9 210.2L67.7 210.2L62.8 202.4Z"/>
<path d="M66.7 200.2L76.5 200.2L71.6 192.4Z"/>
<path d="M84.4 184.5L94.2 184.5L89.3 176.7Z"/>
<path d="M119.8 180.2L129.6 180.2L124.7 172.4Z"/>
<path d="M155.2 177.6L165.0 177.6L160.1 169.8Z"/>
<path d="M226.0 172.0L235.8 172.0L230.9 164.2Z"/>
<path d="M296.8 172.0L306.6 172.0L301.7 164.2Z"/>
<path d="M332.2 172.0L342.0 172.0L337.1 164.2Z"/>
<circle cx="53.9" cy="312.0" r="4.0"/>
<circle cx="62.8" cy="62.0" r="3.6"/>
<circle cx="71.6" cy="47.0" r="3.6"/>
<circle cx="89.3" cy="32.6" r="3.6"/>
<circle cx="124.7" cy="31.1" r="3.6"/>
<circle cx="160.1" cy="30.3" r="3.6"/>
<circle cx="230.9" cy="30.1" r="3.6"/>
<circle cx="301.7" cy="30.1" r="3.6"/>
<circle cx="337.1" cy="29.6" r="3.6"/>
<g font-size="11.8" text-anchor="end">
<text x="44.5" y="315.6">0</text>
<text x="44.5" y="254.1">10</text>
<text x="44.5" y="192.7">20</text>
<text x="44.5" y="131.2">30</text>
<text x="44.5" y="69.8">40</text>
<text x="44.5" y="8.3">50</text>
</g>
<g font-size="11.7" text-anchor="middle">
<text x="53.9" y="333.1">0</text>
<text x="171.9" y="333.1">200</text>
<text x="289.9" y="333.1">400</text>
<text x="407.9" y="333.1">600</text>
</g>
<text x="260.6" y="355.6" font-size="14.15" text-anchor="middle">Time (min)</text>
<g font-size="14">
<text transform="translate(13.6 204) rotate(-90)">q</text>
<text transform="translate(18.2 192.2) rotate(-90)" font-size="9" letter-spacing="0.15">Pb(II)</text>
<text transform="translate(13.6 163.9) rotate(-90)">(mg g</text>
<text transform="translate(6.6 126.1) rotate(-90)" font-size="8.4">-1</text>
<text transform="translate(13.6 117.1) rotate(-90)">)</text>
</g>
<path d="M287.1 63.5L293.7 63.5L290.4 69.1Z" fill="#fff" stroke="#000" stroke-width="1.5"/>
<path d="M285.7 81.9L295.1 81.9L290.4 74.1Z"/>
<circle cx="290.4" cy="92.6" r="3.5"/>
<g fill="none" stroke="#000" stroke-width="1.75">
<path d="M265.5 106.4H314.7"/>
<path d="M265.5 120.7H311" stroke-dasharray="12.5 4"/>
<path d="M265.6 134H315" stroke-dasharray="1.9 2.15" stroke-width="1.9"/>
</g>
<g font-size="10.62">
<text x="326.7" y="69.7">ES</text>
<text x="326.7" y="82.8">CES</text>
<text x="326.7" y="97.0">CWES</text>
<text x="326.7" y="110.4">pseudo first order model</text>
<text x="326.7" y="124.1">pseudo second order model</text>
<text x="326.7" y="138.5">Intraparticle diffusion (Crank)</text>
<text x="326.7" y="150.0">model</text>
</g>
</svg>
</body></html>
